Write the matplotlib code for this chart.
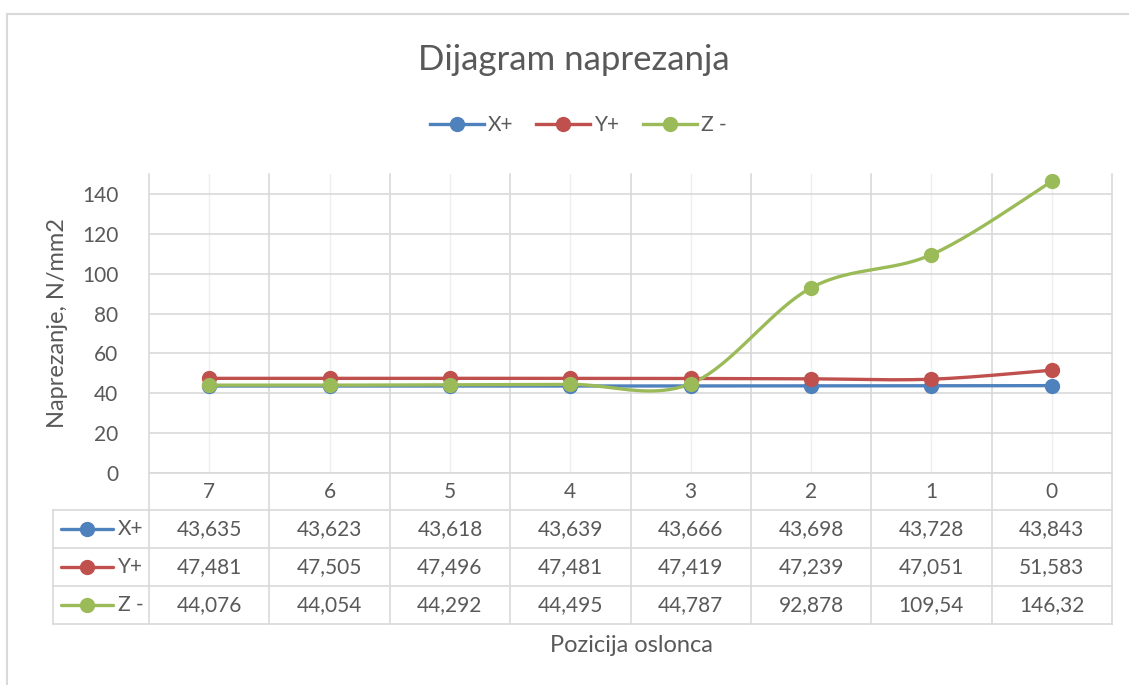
import numpy as np
import matplotlib
matplotlib.use('Agg')
import matplotlib.pyplot as plt
import matplotlib.transforms as mtransforms
from matplotlib.lines import Line2D

# Stress per support position (N/mm2)
positions = ['7', '6', '5', '4', '3', '2', '1', '0']
x_plus = [43.635, 43.623, 43.618, 43.639, 43.666, 43.698, 43.728, 43.843]
y_plus = [47.481, 47.505, 47.496, 47.481, 47.419, 47.239, 47.051, 51.583]
z_minus = [44.076, 44.054, 44.292, 44.495, 44.787, 92.878, 109.54, 146.32]
series_names = ['X+', 'Y+', 'Z -']
series_colors = ['#4f81bd', '#c0504d', '#9bbb59']
y_ticks = [0, 20, 40, 60, 80, 100, 120, 140]

W, H = 1129, 685
TXT = '#595959'
GRID = '#d9d9d9'
plt.rcParams['font.family'] = ['Lato', 'DejaVu Sans']

# plot area in pixels
PL, PR, PT, PB = 149, 1112, 174, 473
n = len(positions)


def xd(px):
    return (px - PL) / (PR - PL) * n


def ya(py):
    return (PB - py) / (PB - PT)


def smooth(xs, ys, steps=40):
    # Catmull-Rom style bezier smoothing between consecutive points
    p = np.column_stack([xs, ys]).astype(float)
    ext = np.vstack([p[0], p, p[-1]])
    t = np.linspace(0, 1, steps)[:, None]
    out = []
    for i in range(len(p) - 1):
        p0, p1, p2, p3 = ext[i], ext[i + 1], ext[i + 2], ext[i + 3]
        c1 = p1 + (p2 - p0) / 6
        c2 = p2 - (p3 - p1) / 6
        seg = (1 - t) ** 3 * p1 + 3 * (1 - t) ** 2 * t * c1 + 3 * (1 - t) * t ** 2 * c2 + t ** 3 * p2
        out.append(seg if i == 0 else seg[1:])
    pts = np.vstack(out)
    return pts[:, 0], pts[:, 1]


def fmt(v):
    return f"{v:.5g}".replace('.', ',')


fig = plt.figure(figsize=(W / 100, H / 100), dpi=100)
ax = fig.add_axes([PL / W, 1 - PB / H, (PR - PL) / W, (PB - PT) / H])
ax.set_xlim(0, n)
ax.set_ylim(0, 150)
for s in ax.spines.values():
    s.set_visible(False)

ax.set_yticks(y_ticks)
ax.set_yticklabels([str(v) for v in y_ticks])
ax.tick_params(axis='y', length=0, pad=22, labelsize=15, labelcolor=TXT)
ax.set_xticks([])
ax.yaxis.grid(True, color=GRID, lw=1.2)
ax.set_axisbelow(True)

trans = mtransforms.blended_transform_factory(ax.transData, ax.transAxes)

# vertical lines: category boundaries run down through the data table
for i in range(n + 1):
    ax.plot([i, i], [ya(624), 1], color=GRID, lw=1.2, transform=trans,
            clip_on=False, zorder=0.5)
for i in range(n):
    ax.plot([i + 0.5, i + 0.5], [0, 1], color='#efefef', lw=1.0,
            transform=trans, zorder=0.4)
ax.plot([0, n], [0, 0], color=GRID, lw=1.2, transform=trans, clip_on=False)

xc = np.arange(n) + 0.5
all_series = [x_plus, y_plus, z_minus]
for vals, name, col in zip(all_series, series_names, series_colors):
    sx, sy = smooth(xc, vals)
    ax.plot(sx, sy, color=col, lw=2.4, solid_capstyle='round', zorder=3)
    ax.plot(xc, vals, ls='none', marker='o', ms=10, color=col, zorder=4)

# data table below the plot
for i, lab in enumerate(positions):
    ax.text(i + 0.5, ya(492), lab, ha='center', va='center', fontsize=15,
            color=TXT, transform=trans, clip_on=False)

row_lines = [510, 548, 586, 624]
for py in row_lines:
    ax.plot([xd(53), n], [ya(py), ya(py)], color=GRID, lw=1.2,
            transform=trans, clip_on=False)
ax.plot([xd(53), xd(53)], [ya(510), ya(624)], color=GRID, lw=1.2,
        transform=trans, clip_on=False)

for r, (vals, name, col) in enumerate(zip(all_series, series_names, series_colors)):
    yc = ya((row_lines[r] + row_lines[r + 1]) / 2)
    ax.plot([xd(61), xd(113)], [yc, yc], color=col, lw=2.4,
            solid_capstyle='round', transform=trans, clip_on=False)
    ax.plot([xd(87)], [yc], marker='o', ms=10, color=col,
            transform=trans, clip_on=False)
    ax.text(xd(118), yc, name, ha='left', va='center', fontsize=15,
            color=TXT, transform=trans, clip_on=False)
    for i, v in enumerate(vals):
        ax.text(i + 0.5, yc, fmt(v), ha='center', va='center', fontsize=15,
                color=TXT, transform=trans, clip_on=False)

# titles
fig.text(574 / W, 1 - 60 / H, 'Dijagram naprezanja', ha='center', va='center',
         fontsize=25, color=TXT)
fig.text(631 / W, 1 - 646 / H, 'Pozicija oslonca', ha='center', va='center',
         fontsize=17, color=TXT)
fig.text(57 / W, 1 - PT / H - (PB - PT) / 2 / H, 'Naprezanje, N/mm2', ha='center',
         va='center', rotation=90, fontsize=17, color=TXT)

handles = [Line2D([], [], color=c, lw=2.4, marker='o', ms=10) for c in series_colors]
fig.legend(handles, series_names, loc='center', bbox_to_anchor=(578 / W, 1 - 125 / H),
           ncol=3, frameon=False, fontsize=15, handlelength=2.6,
           handletextpad=0.2, columnspacing=1.1, labelcolor=TXT)

# chart frame (top and left edges)
fig.add_artist(Line2D([7 / W, 1], [1 - 14 / H, 1 - 14 / H], color=GRID, lw=1.5,
                      transform=fig.transFigure))
fig.add_artist(Line2D([7 / W, 7 / W], [1 - 14 / H, 0], color=GRID, lw=1.5,
                      transform=fig.transFigure))

fig.savefig('out.png', dpi=100)
